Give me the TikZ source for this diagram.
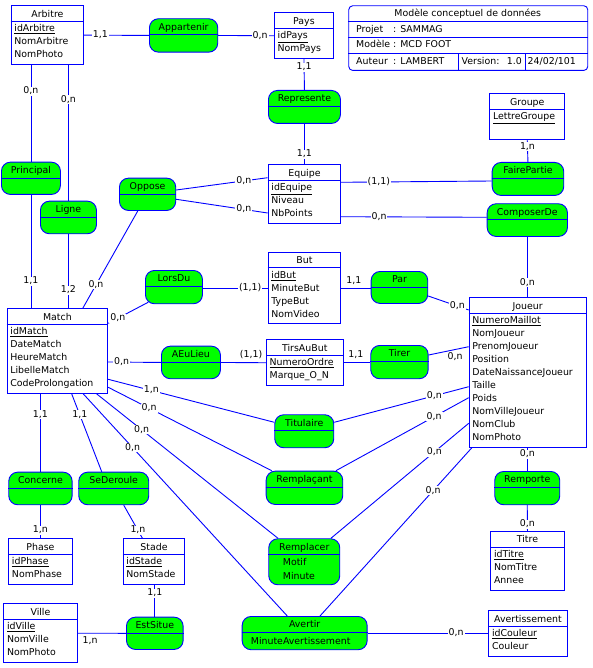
\documentclass[tikz,border=0pt]{standalone}
\usepackage{fontspec}
\setmainfont{DejaVu Sans}
\usetikzlibrary{calc,positioning}

\definecolor{mcdblue}{RGB}{0,0,255}
\definecolor{mcdgreen}{RGB}{0,255,0}

% entite : nom, gauche, haut, largeur, hauteur, titre, attributs
\newcommand{\entite}[7]{%
  \node[entbox, minimum width=#4pt, minimum height=#5pt] (#1) at (#2,#3) {};
  \node[txt] (#1-t) at ($(#1.north)+(0,9.3)$) {#6};
  \draw[link] ($(#1.north west)+(0,16)$) -- ($(#1.north east)+(0,16)$);
  \foreach \att [count=\i] in {#7}
    \node[txt, anchor=west] (#1-\i) at ($(#1.north west)+(3.5,11.2+12.9*\i)$)
      {\ifnum\i=1 \underline{\att}\else\att\fi};
}
% association : nom, gauche, haut, largeur, hauteur, titre
\newcommand{\assoc}[6]{%
  \node[assbox, minimum width=#4pt, minimum height=#5pt] (#1) at (#2,#3) {};
  \node[txt] (#1-t) at ($(#1.north)+(0,9.4)$) {#6};
  \draw[link] ($(#1.north west)+(0,16.4)$) -- ($(#1.north east)+(0,16.4)$);
}

\begin{document}
\begin{tikzpicture}[x=1pt, y=-1pt,
    txt/.style={inner sep=0pt, text height=7pt, text depth=2pt, font=\fontsize{9.4}{11}\selectfont},
    entbox/.style={rectangle, draw=mcdblue, line width=0.9pt, fill=white, inner sep=0pt, anchor=north west},
    assbox/.style={rectangle, rounded corners=9pt, draw=mcdblue, line width=0.9pt, fill=mcdgreen, inner sep=0pt, anchor=north west},
    link/.style={draw=mcdblue, line width=0.9pt},
    card/.style={txt, fill=white, inner xsep=1pt}]
  \useasboundingbox (0,0) rectangle (592,668);

  % cartouche
  \node[entbox, rounded corners=4pt, minimum width=239pt, minimum height=64.7pt] (cartouche) at (348.3,5.3) {};
  \draw[link] ([yshift=-16pt]cartouche.north west) -- ([yshift=-16pt]cartouche.north east);
  \draw[link] ([yshift=-32.4pt]cartouche.north west) -- ([yshift=-32.4pt]cartouche.north east);
  \draw[link] ([yshift=-48pt]cartouche.north west) -- ([yshift=-48pt]cartouche.north east);
  \draw[link] ([xshift=110pt,yshift=-48pt]cartouche.north west) -- ([xshift=110pt]cartouche.south west);
  \draw[link] ([xshift=177.4pt,yshift=-48pt]cartouche.north west) -- ([xshift=177.4pt]cartouche.south west);
  \node[txt] (cart-t) at (467.8,14.5) {Modèle conceptuel de données};
  \node[txt, anchor=west] (cart-p) at (356,30.5) {Projet};
  \node[txt, anchor=west] (cart-pv) at (393,30.5) {: SAMMAG};
  \node[txt, anchor=west] (cart-m) at (356,45.5) {Modèle};
  \node[txt, anchor=west] (cart-mv) at (393,45.5) {: MCD FOOT};
  \node[txt, anchor=west] (cart-a) at (356,62) {Auteur};
  \node[txt, anchor=west] (cart-av) at (393,62) {: LAMBERT};
  \node[txt, anchor=west] (cart-v) at (461.5,62) {Version:};
  \node[txt, anchor=east] (cart-vv) at (522,62) {1.0};
  \node[txt, anchor=west] (cart-d) at (527.5,62) {24/02/101};

  % entites
  \entite{arbitre}{10.7}{5.3}{72.6}{58.7}{Arbitre}{idArbitre,NomArbitre,NomPhoto}
  \entite{pays}{274}{12.3}{59}{46}{Pays}{idPays,NomPays}
  \entite{groupe}{489.3}{93.3}{75}{46}{Groupe}{LettreGroupe}
  \entite{equipe}{267.7}{164.3}{72.6}{59}{Equipe}{idEquipe,Niveau,NbPoints}
  \entite{but}{267.7}{251.7}{72.6}{71.6}{But}{idBut,MinuteBut,TypeBut,NomVideo}
  \entite{joueur}{468.7}{297.3}{117}{149.7}{Joueur}{NumeroMaillot,NomJoueur,PrenomJoueur,Position,DateNaissanceJoueur,Taille,Poids,NomVilleJoueur,NomClub,NomPhoto}
  \entite{match}{6.7}{308.3}{100.6}{84.7}{Match}{idMatch,DateMatch,HeureMatch,LibelleMatch,CodeProlongation}
  \entite{tirsaubut}{266}{339.3}{76.7}{46}{TirsAuBut}{NumeroOrdre,Marque\_O\_N}
  \entite{phase}{8.3}{538.3}{63.4}{46}{Phase}{idPhase,NomPhase}
  \entite{stade}{122.7}{538.3}{61.6}{46}{Stade}{idStade,NomStade}
  \entite{ville}{3.3}{603.3}{73.4}{59}{Ville}{idVille,NomVille,NomPhoto}
  \entite{titre}{490.3}{531}{73.4}{59.3}{Titre}{idTitre,NomTitre,Annee}
  \entite{avertissement}{488.3}{610.3}{78.4}{45.7}{Avertissement}{idCouleur,Couleur}

  % associations
  \assoc{appartenir}{149}{18.3}{68.3}{33.4}{Appartenir}
  \assoc{represente}{268}{90}{72}{33}{Represente}
  \assoc{principal}{1}{161.7}{59}{32.3}{Principal}
  \assoc{ligne}{40}{200.7}{56}{32.6}{Ligne}
  \assoc{oppose}{119}{177.7}{56.3}{32.3}{Oppose}
  \assoc{fairepartie}{491.7}{162}{71.6}{33}{FairePartie}
  \assoc{composerde}{486.7}{203.3}{80.3}{32.7}{ComposerDe}
  \assoc{lorsdu}{145}{270}{57}{33.3}{LorsDu}
  \assoc{par}{370.7}{271}{56.6}{32}{Par}
  \assoc{aeulieu}{161}{345.7}{59}{32.6}{AEuLieu}
  \assoc{tirer}{370.3}{345}{57.4}{33.3}{Tirer}
  \assoc{titulaire}{274.3}{414.3}{59}{33}{Titulaire}
  \assoc{remplacant}{265.7}{470.7}{76.6}{33.3}{Remplaçant}
  \assoc{remplacer}{268.3}{538.3}{71}{46}{Remplacer}
  \assoc{avertir}{241.7}{616}{125}{33.3}{Avertir}
  \assoc{concerne}{8.3}{471.7}{63.4}{32.6}{Concerne}
  \assoc{sederoule}{78.3}{471.7}{70}{32.6}{SeDeroule}
  \assoc{estsitue}{126}{616.7}{56.7}{32.3}{EstSitue}
  \assoc{remporte}{494.3}{471}{65}{33.3}{Remporte}
  \node[txt, anchor=west] (remplacer-1) at ($(remplacer.north west)+(14.4,25)$) {Motif};
  \node[txt, anchor=west] (remplacer-2) at ($(remplacer.north west)+(14.4,38.4)$) {Minute};
  \node[txt, anchor=west] (avertir-1) at ($(avertir.north west)+(9,25.5)$) {MinuteAvertissement};

  % liens
  \draw[link] (arbitre.east) -- (appartenir.west) node[card, pos=0.25] {1,1};
  \draw[link] (appartenir.east) -- (pays.west) node[card, pos=0.75] {0,n};
  \draw[link] (pays.south) -- (represente.north) node[card, pos=0.26] {1,1};
  \draw[link] (represente.south) -- (equipe.north) node[card, pos=0.75] {1,1};
  \draw[link] (principal.north |- arbitre.south) -- (principal.north) node[card, pos=0.27] {0,n};
  \draw[link] (ligne.north |- arbitre.south) -- (ligne.north) node[card, pos=0.256] {0,n};
  \draw[link] (principal.south) -- (principal.south |- match.north) node[card, pos=0.76] {1,1};
  \draw[link] (ligne.south) -- (ligne.south |- match.north) node[card, pos=0.756] {1,2};
  \draw[link] ([xshift=-9.8pt]oppose.south) -- ([xshift=25.3pt]match.north) node[card, pos=0.76] {0,n};
  \draw[link] ([yshift=-12.3pt]oppose.north east) -- ([yshift=-13.4pt]equipe.north west) node[card, pos=0.74] {0,n};
  \draw[link] ([yshift=-21.6pt]oppose.north east) -- ([yshift=-48.7pt]equipe.north west) node[card, pos=0.74] {0,n};
  \draw[link] ([yshift=-18pt]equipe.north east) -- ([yshift=-19pt]fairepartie.north west) node[card, pos=0.25] {(1,1)};
  \draw[link] (groupe.south) -- (fairepartie.north) node[card, pos=0.3] {1,n};
  \draw[link] ([yshift=-52.4pt]equipe.north east) -- ([yshift=-14pt]composerde.north west) node[card, pos=0.26] {0,n};
  \draw[link] (composerde.south) -- (composerde.south |- joueur.north) node[card, pos=0.76] {0,n};
  \draw[link] ([yshift=-15pt]match.north east) -- ([xshift=3.3pt,yshift=2pt]lorsdu.south west) node[card, pos=0.24] {0,n};
  \draw[link] (lorsdu.east |- but.west) -- (but.west) node[card, pos=0.73] {(1,1)};
  \draw[link] (but.east) -- (par.west |- but.east) node[card, above=2.5pt, pos=0.43] {1,1};
  \draw[link] ([yshift=-25pt]par.north east) -- ([yshift=-12.7pt]joueur.north west) node[card, pos=0.72] {0,n};
  \draw[link] ([yshift=-53.7pt]match.north east) -- (aeulieu.west) node[card, pos=0.255] {0,n};
  \draw[link] (aeulieu.east) -- (tirsaubut.west) node[card, above=2.5pt, pos=0.67] {(1,1)};
  \draw[link] (tirsaubut.east) -- (tirer.west |- tirsaubut.east) node[card, above=2.5pt, pos=0.46] {1,1};
  \draw[link] ([yshift=-10pt]tirer.north east) -- ([yshift=-49.4pt]joueur.north west) node[card, below=3pt, pos=0.66] {0,n};
  \draw[link] ([yshift=-71pt]match.north east) -- ([yshift=-8pt]titulaire.north west) node[card, pos=0.26] {1,n};
  \draw[link] ([yshift=-8pt]titulaire.north east) -- ([yshift=-89.4pt]joueur.north west) node[card, pos=0.744] {0,n};
  \draw[link] ([yshift=-79pt]match.north east) -- ([xshift=6pt]remplacant.north west) node[card, pos=0.25] {0,n};
  \draw[link] ([xshift=-7.3pt]remplacant.north east) -- ([yshift=-100.4pt]joueur.north west) node[card, pos=0.74] {0,n};
  \draw[link] ([xshift=90pt]match.south west) -- ([xshift=9.7pt]remplacer.north west) node[card, pos=0.248] {0,n};
  \draw[link] ([xshift=-9.3pt]remplacer.north east) -- ([yshift=-126pt]joueur.north west) node[card, pos=0.75] {0,n};
  \draw[link] ([xshift=76.6pt]match.south west) -- ([xshift=45.6pt]avertir.north west) node[card, pos=0.242] {0,n};
  \draw[link] ([xshift=78.3pt]avertir.north west) -- ([xshift=3pt]joueur.south west) node[card, pos=0.745] {0,n};
  \draw[link] (avertir.east) -- (avertir.east -| avertissement.west) node[card, pos=0.734] {0,n};
  \draw[link] (concerne.north |- match.south) -- (concerne.north) node[card, pos=0.27] {1,1};
  \draw[link] (concerne.south) -- (phase.north) node[card, pos=0.76] {1,n};
  \draw[link] ([xshift=65pt]match.south west) -- ([xshift=23.4pt]sederoule.north west) node[card, pos=0.27] {1,1};
  \draw[link] ([xshift=10pt]sederoule.south) -- ([xshift=-11.5pt]stade.north) node[card, pos=0.76] {1,n};
  \draw[link] (stade.south -| estsitue.north) -- (estsitue.north) node[card, pos=0.26] {1,1};
  \draw[link] (ville.east) -- (estsitue.west) node[card, below=3pt, pos=0.26] {1,n};
  \draw[link] (joueur.south -| remporte.north) -- (remporte.north) node[card, pos=0.28] {0,n};
  \draw[link] (remporte.south) -- (titre.north) node[card, pos=0.74] {0,n};
\end{tikzpicture}
\end{document}
